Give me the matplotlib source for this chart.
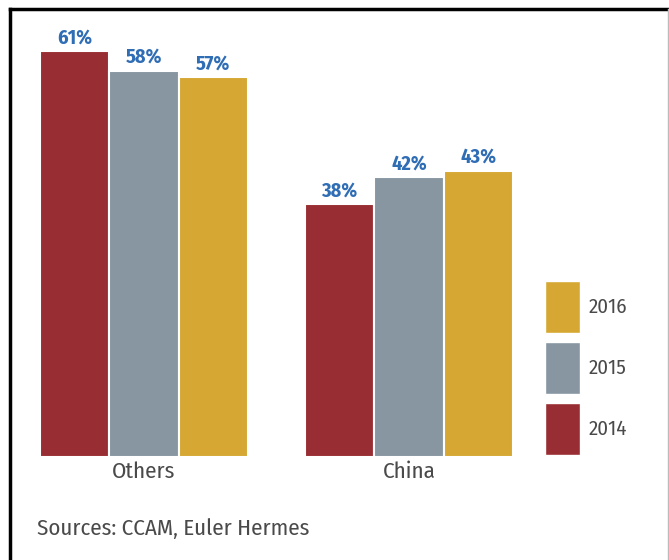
import matplotlib.pyplot as plt
from matplotlib.patches import Patch
from matplotlib.lines import Line2D

categories = ["Others", "China"]
years = ["2014", "2015", "2016"]
values = {
    "2014": [61, 38],
    "2015": [58, 42],
    "2016": [57, 43],
}
colors = {"2014": "#982D33", "2015": "#8796A1", "2016": "#D6A833"}

plt.rcParams["font.family"] = ["Fira Sans Condensed", "DejaVu Sans"]

W, H = 669, 560
fig = plt.figure(figsize=(W / 100, H / 100), dpi=100)
# axes in pixel coords: x 30..530, y from 20 (top) to 457 (baseline)
ax = fig.add_axes([30 / W, (H - 457) / H, 500 / W, 437 / H])

bw = 0.262
for i, yr in enumerate(years):
    xs = [g + (i - 1) * bw for g in range(len(categories))]
    ax.bar(xs, values[yr], width=bw, color=colors[yr],
           edgecolor="white", linewidth=1.5, label=yr)
    for x, v in zip(xs, values[yr]):
        ax.annotate(f"{v}%", (x, v), xytext=(0, 2.5), textcoords="offset points",
                    ha="center", va="bottom", fontsize=14.5, fontweight="bold",
                    color="#2F6DB5")

ax.set_xlim(-0.430, 1.457)
ax.set_ylim(0, 65.6)
ax.set_xticks(range(len(categories)))
ax.set_xticklabels(categories, fontsize=16.5, color="#4A4A4A")
ax.tick_params(axis="x", length=0, pad=3)
ax.set_yticks([])
for s in ax.spines.values():
    s.set_visible(False)

handles = [Patch(facecolor=colors[yr], edgecolor="white", label=yr) for yr in reversed(years)]
fig.legend(handles=handles, loc="upper left", bbox_to_anchor=(545 / W, 1 - 281 / H),
           frameon=False, borderpad=0, borderaxespad=0, handlelength=1.7, handleheight=3.46,
           handletextpad=0.4, labelspacing=0.43, fontsize=15, labelcolor="#4A4A4A")

fig.text(37 / W, 1 - 529 / H, "Sources: CCAM, Euler Hermes", fontsize=16.5,
         color="#4A4A4A", va="center", ha="left")

# frame around the chart
fig.add_artist(Line2D([9.5 / W, 9.5 / W], [0, 1 - 9 / H], color="black", lw=2.5))
fig.add_artist(Line2D([9.5 / W, 668 / W], [1 - 9 / H, 1 - 9 / H], color="black", lw=2.5))
fig.add_artist(Line2D([668 / W, 668 / W], [0, 1 - 9 / H], color="#BBBBBB", lw=1))

fig.savefig("out.png", dpi=100)
